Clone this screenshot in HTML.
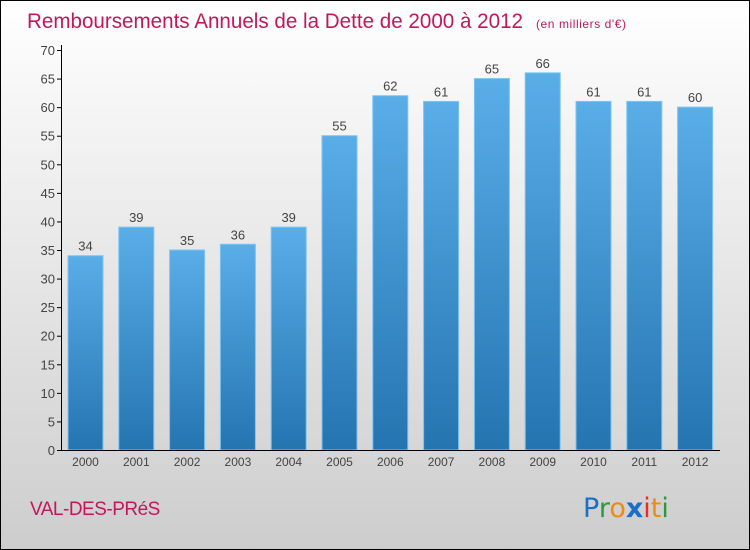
<!DOCTYPE html>
<html><head><meta charset="utf-8"><style>
body{margin:0;width:750px;height:550px;overflow:hidden}
svg{display:block;font-family:"Liberation Sans",sans-serif}
</style></head><body>
<svg id="chart" width="750" height="550">
<defs>
<linearGradient id="bg" x1="0" y1="0" x2="0" y2="1"><stop offset="0" stop-color="#ffffff"/><stop offset="1" stop-color="#cdcdcd"/></linearGradient>
<linearGradient id="bar" x1="0" y1="0" x2="0" y2="1"><stop offset="0" stop-color="#5aaee8"/><stop offset="1" stop-color="#2474b0"/></linearGradient>
</defs>
<rect x="0.5" y="0.5" width="749" height="549" fill="url(#bg)" stroke="#000"/>
<text x="27" y="28" font-size="21" fill="#c2185b" textLength="496" lengthAdjust="spacingAndGlyphs">Remboursements Annuels de la Dette de 2000 à 2012</text>
<text x="536" y="28" font-size="12" fill="#c2185b" textLength="90">(en milliers d'€)</text>
<g id="yaxis"></g>
<g id="bars"></g>
<line x1="61.5" y1="45" x2="61.5" y2="450" stroke="#000"/>
<line x1="61" y1="450.5" x2="720" y2="450.5" stroke="#000"/>
<text x="30" y="515" font-size="19" fill="#c2185b" style="letter-spacing:-0.5px">VAL-DES-PRéS</text>
<g font-size="27" font-family="'DejaVu Sans',sans-serif">
<text x="583" y="517"><tspan fill="#1a6fc8">P</tspan><tspan fill="#2a9a3a">r</tspan><tspan fill="#f08a10">o</tspan><tspan fill="#1a6fc8" font-weight="bold">x</tspan><tspan fill="#e53020">i</tspan><tspan fill="#f08a10">t</tspan><tspan fill="#2a9a3a">i</tspan></text>
</g>
</svg>
<script>
const years=["2000","2001","2002","2003","2004","2005","2006","2007","2008","2009","2010","2011","2012"];
const values=[34,39,35,36,39,55,62,61,65,66,61,61,60];
const yTicks=[0,5,10,15,20,25,30,35,40,45,50,55,60,65,70];
const NS="http://www.w3.org/2000/svg";
const y=v=>450-v*400/70;
const x=i=>85.5+i*50.8;
const bw=35;
function mk(t,a,txt){const e=document.createElementNS(NS,t);for(const k in a)e.setAttribute(k,a[k]);if(txt!=null)e.textContent=txt;return e;}
const ya=document.getElementById('yaxis');
yTicks.forEach(v=>{
  const l=mk('line',{x1:57,x2:61,y1:y(v)+0.5,y2:y(v)+0.5,stroke:'#000'});
  
  
  ya.appendChild(l);
  const t=mk('text',{x:55,y:y(v)+5,'font-size':13,fill:'#444','text-anchor':'end'},v);
  
  
  ya.appendChild(t);
});
const bg=document.getElementById('bars');
values.forEach((v,i)=>{
  const r=mk('rect',{x:x(i)-bw/2,y:y(v),width:bw,height:450-y(v),fill:'url(#bar)',stroke:'#7cc4f2','stroke-width':1});
  
  
  bg.appendChild(r);
  const t=mk('text',{x:x(i),y:y(v)-5,'font-size':13,fill:'#444','text-anchor':'middle'},v);
  
  
  bg.appendChild(t);
  const xl=mk('text',{x:x(i),y:466,'font-size':12,fill:'#444','text-anchor':'middle'},years[i]);
  
  
  bg.appendChild(xl);
});
</script>
</body></html>
